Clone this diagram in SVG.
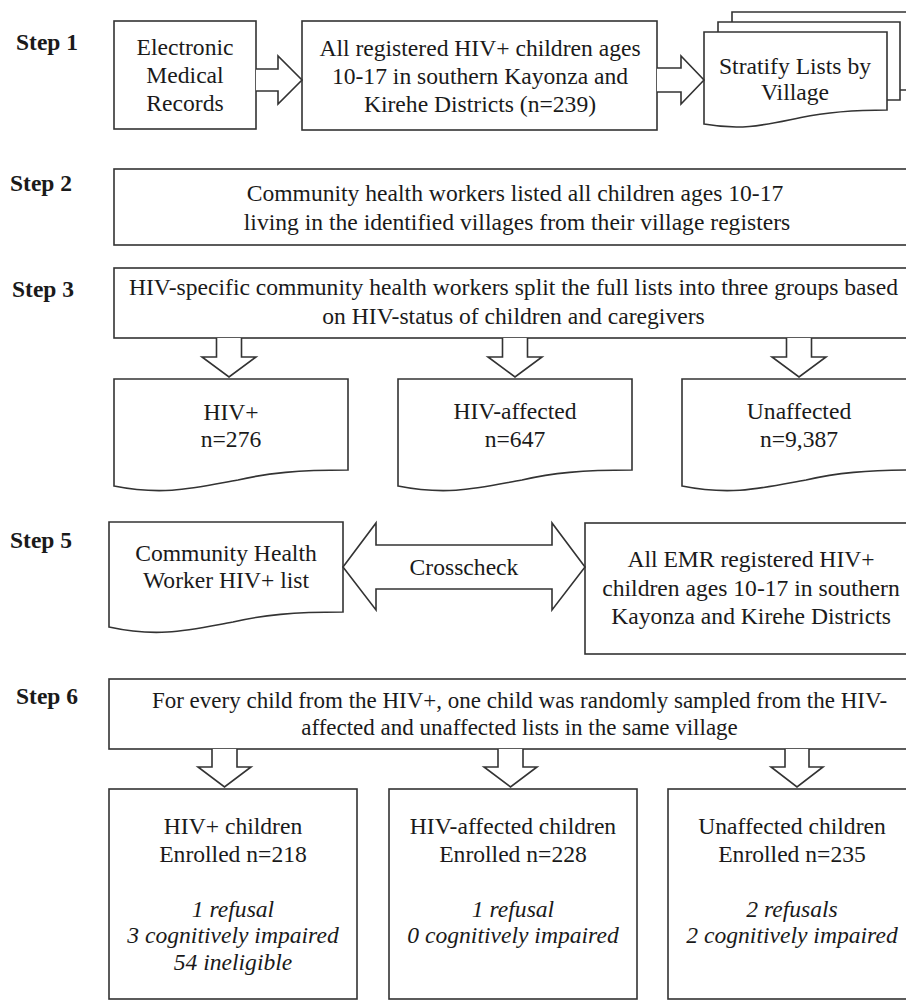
<svg xmlns="http://www.w3.org/2000/svg" width="906" height="1001" viewBox="0 0 906 1001">
<style>
.bx{fill:#fff;stroke:#333;stroke-width:1.6}
.ar{fill:#fff;stroke:#333;stroke-width:1.6;stroke-linejoin:miter}
.t{font-family:'Liberation Serif',serif;font-size:23.6px;fill:#1a1a1a;text-anchor:middle}
.n{font-size:23px}
.i{font-style:italic}
.s{font-family:'Liberation Serif',serif;font-size:23.5px;font-weight:bold;fill:#1a1a1a}
</style>
<rect width="906" height="1001" fill="#fff"/>
<g id="labels">
<text class="s" x="16" y="50">Step 1</text>
<text class="s" x="10" y="191">Step 2</text>
<text class="s" x="12" y="297">Step 3</text>
<text class="s" x="10" y="548">Step 5</text>
<text class="s" x="16" y="704">Step 6</text>
</g>
<g id="emr">
<rect class="bx" x="114" y="21" width="142" height="108"/>
<text class="t" x="185" y="55">Electronic</text>
<text class="t" x="185" y="83">Medical</text>
<text class="t" x="185" y="111">Records</text>
</g>
<g id="registered">
<rect class="bx" x="302" y="21" width="355" height="109"/>
<text class="t" x="480" y="56">All registered HIV+ children ages</text>
<text class="t" x="480" y="84">10-17 in southern Kayonza and</text>
<text class="t" x="480" y="112">Kirehe Districts (n=239)</text>
</g>
<g id="stratify">
<path class="bx" d="M732,90 V12 H915 V90 Z"/>
<path class="bx" d="M718,100 V22 H900 V100 Z"/>
<path class="bx" d="M704,124 V32 H887 V110 C848,110 825,112.5 801,117.5 C766,124.5 743,131 704,124 Z"/>
<text class="t" x="795" y="74">Stratify Lists by</text>
<text class="t" x="795" y="100">Village</text>
</g>
<g id="step2">
<rect class="bx" x="114" y="169" width="806" height="76"/>
<text class="t" x="515" y="201">Community health workers listed all children ages 10-17</text>
<text class="t" x="517" y="230">living in the identified villages from their village registers</text>
</g>
<g id="step3">
<rect class="bx" x="114" y="268" width="806" height="70"/>
<text class="t" x="513.5" y="295">HIV-specific community health workers split the full lists into three groups based</text>
<text class="t" x="513.5" y="324">on HIV-status of children and caregivers</text>
</g>
<g id="hivpos">
<path class="bx" d="M114,486 V379 H348 V470 C298,470 268,473 238,480 C194,488 164,496 114,486 Z"/>
<text class="t" x="231" y="420">HIV+</text>
<text class="t" x="231" y="447">n=276</text>
</g>
<g id="hivaff">
<path class="bx" d="M398,486 V379 H632 V470 C582,470 552,473 522,480 C478,488 448,496 398,486 Z"/>
<text class="t" x="515" y="419">HIV-affected</text>
<text class="t" x="515" y="447">n=647</text>
</g>
<g id="unaff">
<path class="bx" d="M682,486 V379 H916 V470 C866,470 836,473 806,480 C762,488 732,496 682,486 Z"/>
<text class="t" x="799" y="419">Unaffected</text>
<text class="t" x="799" y="447">n=9,387</text>
</g>
<g id="chwlist">
<path class="bx" d="M109,627 V522 H343 V612 C293,612 263,615 233,622 C189,630 159,638 109,627 Z"/>
<text class="t" x="226" y="561">Community Health</text>
<text class="t" x="226" y="588">Worker HIV+ list</text>
</g>
<g id="emrlist">
<rect class="bx" x="585" y="523" width="335" height="131"/>
<text class="t" x="751" y="567">All EMR registered HIV+</text>
<text class="t" x="751" y="596">children ages 10-17 in southern</text>
<text class="t" x="751" y="624">Kayonza and Kirehe Districts</text>
</g>
<g id="step6">
<rect class="bx" x="109" y="679" width="821" height="70"/>
<text class="t n" x="519.5" y="708">For every child from the HIV+, one child was randomly sampled from the HIV-</text>
<text class="t n" x="519.5" y="735">affected and unaffected lists in the same village</text>
</g>
<g id="enrolled-hivpos">
<rect class="bx" x="109" y="789" width="248" height="210"/>
<text class="t" x="233" y="834">HIV+ children</text>
<text class="t" x="233" y="862">Enrolled n=218</text>
<text class="t i" x="233" y="917">1 refusal</text>
<text class="t i" x="233" y="943">3 cognitively impaired</text>
<text class="t i" x="233" y="970">54 ineligible</text>
</g>
<g id="enrolled-hivaff">
<rect class="bx" x="389" y="789" width="248" height="210"/>
<text class="t" x="513" y="834">HIV-affected children</text>
<text class="t" x="513" y="862">Enrolled n=228</text>
<text class="t i" x="513" y="917">1 refusal</text>
<text class="t i" x="513" y="943">0 cognitively impaired</text>
</g>
<g id="enrolled-unaff">
<rect class="bx" x="668" y="789" width="248" height="210"/>
<text class="t" x="792" y="834">Unaffected children</text>
<text class="t" x="792" y="862">Enrolled n=235</text>
<text class="t i" x="792" y="917">2 refusals</text>
<text class="t i" x="792" y="943">2 cognitively impaired</text>
</g>
<g id="connectors">
<polyline class="ar" points="256,69 278,69 278,56 302,80 278,104 278,91 256,91"/>
<polyline class="ar" points="657,68 681,68 681,56 704,80 681,104 681,92 657,92"/>
<polyline class="ar" points="216.5,338 216.5,357 202,357 229,377 256,357 241.5,357 241.5,338"/>
<polyline class="ar" points="502.5,338 502.5,357 488,357 515,377 542,357 527.5,357 527.5,338"/>
<polyline class="ar" points="786.5,338 786.5,357 772,357 799,377 826,357 811.5,357 811.5,338"/>
<polygon class="ar" points="343,567 376,523 376,545 552,545 552,523 585,567 552,610 552,589 376,589 376,610"/>
<text class="t" x="464" y="575">Crosscheck</text>
<polyline class="ar" points="212,749 212,767 198,767 224.5,787 251,767 237,767 237,749"/>
<polyline class="ar" points="498,749 498,767 484,767 510.5,787 537,767 523,767 523,749"/>
<polyline class="ar" points="785,749 785,767 771,767 797,787 823,767 809,767 809,749"/>
</g>
</svg>
